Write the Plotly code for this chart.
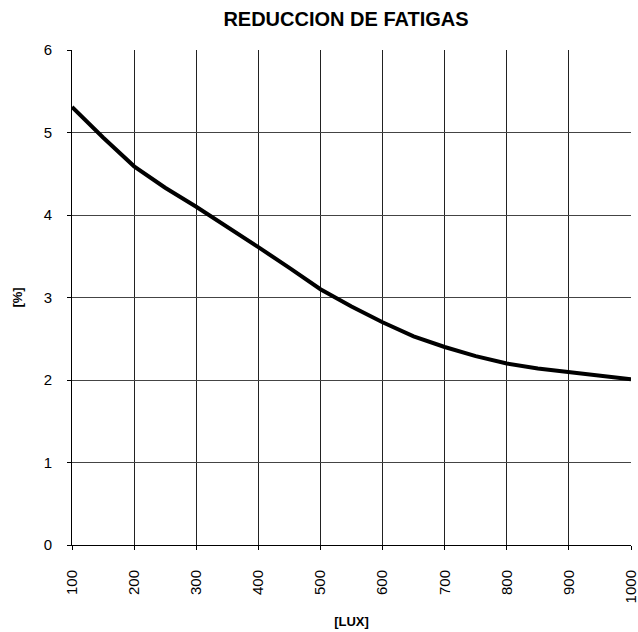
import plotly.graph_objects as go

lux = [100, 150, 200, 250, 300, 350, 400, 450, 500, 550, 600, 650, 700, 750, 800, 850, 900, 950, 1000]
fatiga = [5.31, 4.94, 4.59, 4.33, 4.10, 3.86, 3.61, 3.36, 3.10, 2.89, 2.70, 2.53, 2.40, 2.29, 2.20, 2.14, 2.10, 2.06, 2.01]
x_ticks = [100, 200, 300, 400, 500, 600, 700, 800, 900, 1000]
y_ticks = [0, 1, 2, 3, 4, 5, 6]

FONT = "Liberation Sans, Arial, sans-serif"

fig = go.Figure()
fig.add_trace(go.Scatter(x=lux, y=fatiga, mode="lines",
                         line=dict(color="black", width=4), showlegend=False))

fig.update_layout(
    width=638, height=632,
    margin=dict(l=72, r=7, t=50, b=87, autoexpand=False),
    paper_bgcolor="white", plot_bgcolor="white",
    font=dict(family=FONT, size=15, color="black"),
    title=dict(text="<b>REDUCCION DE FATIGAS</b>", x=346 / 638, xanchor="center",
               y=1 - 19 / 632, yanchor="middle", font=dict(size=20, family=FONT)),
)
fig.update_xaxes(
    range=[100, 1000], tickvals=x_ticks, ticktext=[str(v) for v in x_ticks],
    tickangle=-90, ticks="outside", ticklen=4, tickcolor="black",
    ticklabelstandoff=14,
    ticklabeloverflow="allow", automargin=False,
    showgrid=True, gridcolor="#222222", gridwidth=1,
    showline=True, linecolor="black", linewidth=1, mirror=False,
    zeroline=False,
    title=dict(text="<b>[LUX]</b>", font=dict(size=13, family=FONT), standoff=14),
)
fig.update_yaxes(
    range=[0, 6], tickvals=y_ticks, ticks="outside", ticklen=4, tickcolor="black",
    ticklabelstandoff=12, automargin=False,
    showgrid=True, gridcolor="#444444", gridwidth=1,
    showline=True, linecolor="black", linewidth=1,
    zeroline=False,
    title=dict(text="<b>[%]</b>", font=dict(size=13, family=FONT), standoff=18),
)

fig.write_html("out.html", config={"displayModeBar": False},
               post_script="document.body.style.margin='0';")
